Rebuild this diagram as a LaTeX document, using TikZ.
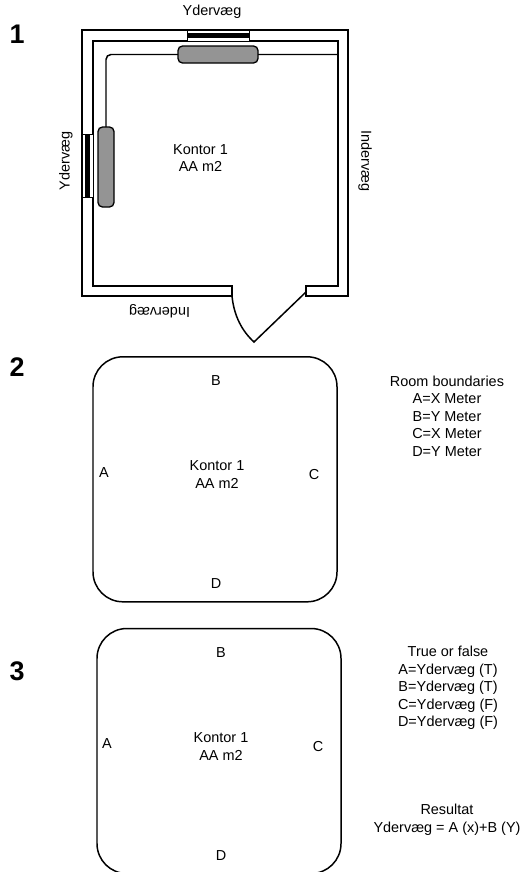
\documentclass[tikz,border=0pt]{standalone}
\usepackage{fontspec}
\setmainfont{Liberation Sans}
\usepackage{tikz}
\usetikzlibrary{positioning}

\begin{document}
\begin{tikzpicture}[x=1bp,y=-1bp,
  wall/.style={line width=1.5pt,black,line join=miter},
  window/.style={draw,line width=1pt,fill=white},
  glass/.style={fill=black,draw=none},
  radiator/.style={draw,line width=1.3pt,fill=black!42,rounded corners=4.5pt},
  room/.style={draw,line width=1.5pt,rounded corners=30pt},
  lbl/.style={font=\fontsize{14.5}{17.6}\selectfont,align=center,inner sep=0pt},
  num/.style={font=\fontsize{27}{30}\selectfont\bfseries,inner sep=0pt}]
  \useasboundingbox (0,0) rectangle (525,872);
  % walls
  \draw[wall] (232,296) -- (82,296) -- (82,30) -- (348,30) -- (348,296) -- (306,296) -- (306,286)
    -- (338,286) -- (338,41) -- (93,41) -- (93,286) -- (232,286) -- (232,296);
  % pipe
  \draw[wall,rounded corners=5pt] (338,54.5) -- (106,54.5) -- (106,127);
  % door
  \coordinate (DoorTip) at (254,342);
  \draw[wall] (232,296) .. controls (234,316) and (242,331) .. (DoorTip) -- (306,292);
  % windows
  \node[window,minimum width=62bp,minimum height=11bp,inner sep=0pt] (WinTop) at (218,35.5) {};
  \fill[glass] (187.5,33) rectangle (248.5,38);
  \node[window,minimum width=11bp,minimum height=63bp,inner sep=0pt] (WinLeft) at (87.5,165.5) {};
  \fill[glass] (85,134.5) rectangle (90,196.5);
  % radiators
  \node[radiator,minimum width=80bp,minimum height=17bp,inner sep=0pt] (RadTop) at (218,54.5) {};
  \node[radiator,minimum width=16bp,minimum height=80bp,inner sep=0pt] (RadLeft) at (106,167) {};
  % section 1 labels
  \node[num] (N1) at (17,34) {1};
  \node[lbl] (YTop) at (212,12) {Ydervæg};
  \node[lbl,rotate=90] (YLeft) at (66,161) {Ydervæg};
  \node[lbl,rotate=-90] (IRight) at (365,161) {Indervæg};
  \node[lbl,rotate=180] (IBottom) at (159.5,311) {Indervæg};
  \node[lbl] (K1) at (200.5,158) {Kontor 1\\AA m2};
  % section 2
  \node[num] (N2) at (17,367) {2};
  \node[room,minimum width=244bp,minimum height=245bp] (R2) at (215,479.3) {};
  \node[lbl] (B2) at (216,381) {B};
  \node[lbl] (A2) at (104,473) {A};
  \node[lbl] (C2) at (314,475) {C};
  \node[lbl] (D2) at (216,584) {D};
  \node[lbl] (K2) at (217,474.5) {Kontor 1\\AA m2};
  \node[lbl] (L2) at (447,416) {Room boundaries\\A=X Meter\\B=Y Meter\\C=X Meter\\D=Y Meter};
  % section 3
  \node[num] (N3) at (17,671) {3};
  \node[room,minimum width=244bp,minimum height=245bp] (R3) at (219,751) {};
  \node[lbl] (B3) at (221,652.5) {B};
  \node[lbl] (A3) at (107,744) {A};
  \node[lbl] (C3) at (318,746.5) {C};
  \node[lbl] (D3) at (221,856) {D};
  \node[lbl] (K3) at (221,746.5) {Kontor 1\\AA m2};
  \node[lbl] (L3) at (448,688) {True or false\\A=Ydervæg (T)\\B=Ydervæg (T)\\C=Ydervæg (F)\\D=Ydervæg (F)};
  \node[lbl] (Res) at (447,820) {Resultat\\Ydervæg = A (x)+B (Y)};
\end{tikzpicture}
\end{document}
